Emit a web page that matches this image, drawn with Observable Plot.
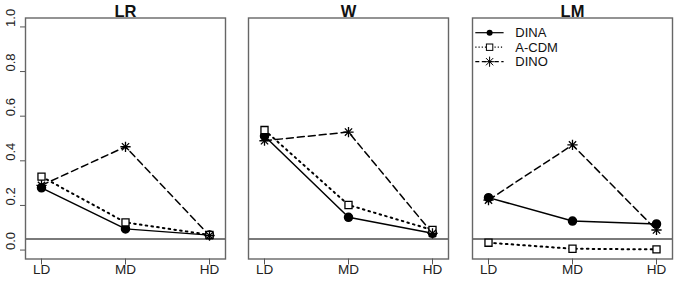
<!DOCTYPE html>
<html>
<head>
<meta charset="utf-8">
<script src="https://cdn.jsdelivr.net/npm/d3@7"></script>
<script src="https://cdn.jsdelivr.net/npm/@observablehq/plot@0.6"></script>
<style>
  html, body { margin: 0; padding: 0; background: white; }
  #chart { position: relative; width: 676px; height: 281px; overflow: hidden; background: white; font-family: "Liberation Sans", Arial, sans-serif; }
  #chart svg { position: absolute; top: 0; background: transparent !important; overflow: visible; }
</style>
</head>
<body>
<div id="chart"></div>
<script>
const categories = ["LD", "MD", "HD"];
const panels = ["LR", "W", "LM"];
const series = ["DINA", "A-CDM", "DINO"];
const yTicks = [0, 0.2, 0.4, 0.6, 0.8, 1.0];
const cutoff = 0.05;

const LR_DINA = [0.279, 0.095, 0.067];
const LR_ACDM = [0.329, 0.124, 0.068];
const LR_DINO = [0.290, 0.463, 0.065];
const W_DINA  = [0.511, 0.147, 0.075];
const W_ACDM  = [0.538, 0.202, 0.090];
const W_DINO  = [0.490, 0.529, 0.075];
const LM_DINA = [0.235, 0.130, 0.117];
const LM_ACDM = [0.033, 0.006, 0.003];
const LM_DINO = [0.224, 0.471, 0.090];

const values = {
  LR: [LR_DINA, LR_ACDM, LR_DINO],
  W:  [W_DINA, W_ACDM, W_DINO],
  LM: [LM_DINA, LM_ACDM, LM_DINO]
};

const styles = {
  "DINA":  {dash: null, width: 1.5},
  "A-CDM": {dash: "1.6,4.2", width: 2},
  "DINO":  {dash: "7,4", width: 1.5}
};

const font = "Liberation Sans, Arial, sans-serif";
const lefts = [0, 223.3, 446.7];
const chart = document.getElementById("chart");
const fmt = d3.format(".1f");

panels.forEach((p, pi) => {
  const rows = [];
  series.forEach((s, si) => {
    categories.forEach((c, ci) => rows.push({panel: p, series: s, cat: c, value: values[p][si][ci]}));
  });
  const of = s => rows.filter(d => d.series === s);

  const marks = [
    Plot.ruleY([cutoff], {stroke: "#7a7a7a", strokeWidth: 2}),
    ...series.map(s => Plot.line(of(s), {x: "cat", y: "value", stroke: "black", strokeWidth: styles[s].width, strokeDasharray: styles[s].dash})),
    Plot.dot(of("DINA"), {x: "cat", y: "value", r: 4, fill: "black", stroke: "black", symbol: "circle"}),
    Plot.dot(of("A-CDM"), {x: "cat", y: "value", r: 4, fill: "white", stroke: "black", strokeWidth: 1.3, symbol: "square"}),
    Plot.dot(of("DINO"), {x: "cat", y: "value", r: 3.4, stroke: "black", strokeWidth: 1.3, symbol: "plus"}),
    Plot.dot(of("DINO"), {x: "cat", y: "value", r: 3.4, stroke: "black", strokeWidth: 1.3, symbol: "times"}),
    Plot.frame({stroke: "#666", strokeWidth: 1.4}),
    Plot.axisX(categories, {anchor: "bottom", tickSize: 6, text: null, stroke: "#555", label: null}),
    Plot.text(categories, {x: d => d, frameAnchor: "bottom", dy: 15, fontSize: 13.5, fill: "#222"}),
    Plot.text([p], {frameAnchor: "top", dy: -1.5, lineAnchor: "bottom", fontWeight: "bold", fontSize: 16.5, fill: "#111"})
  ];
  if (pi === 0) {
    marks.push(Plot.axisY(yTicks, {anchor: "left", tickSize: 5, text: null, stroke: "#555", label: null}));
    marks.push(Plot.text(yTicks, {y: d => d, text: d => fmt(d), frameAnchor: "left", dx: -15, rotate: -90, fontSize: 13, fill: "#222"}));
  }

  const svg = Plot.plot({
    width: 226,
    height: 281,
    marginLeft: 25,
    marginRight: 1,
    marginTop: 17.5,
    marginBottom: 22.5,
    style: {fontFamily: font, background: "transparent", overflow: "visible"},
    x: {type: "point", domain: categories, padding: 0.186, axis: null},
    y: {domain: [-0.04, 1.04], axis: null},
    marks
  });
  svg.style.left = lefts[pi] + "px";
  chart.appendChild(svg);

  if (p === "LM") {
    const g = d3.select(svg).append("g").attr("font-family", font).attr("text-anchor", "start");
    series.forEach((s, si) => {
      const yy = 32.7 + si * 14.5;
      const x0 = 475 - lefts[pi], x1 = 503.3 - lefts[pi], xm = 489.3 - lefts[pi];
      g.append("line").attr("x1", x0).attr("x2", x1).attr("y1", yy).attr("y2", yy)
        .attr("stroke", "black").attr("stroke-width", s === "A-CDM" ? 1.3 : 1.2)
        .attr("stroke-dasharray", s === "DINA" ? null : (s === "A-CDM" ? "1.2,2" : "4,2.5"));
      if (s === "DINA") {
        g.append("circle").attr("cx", xm).attr("cy", yy).attr("r", 3).attr("fill", "black");
      } else if (s === "A-CDM") {
        g.append("rect").attr("x", xm - 3.2).attr("y", yy - 3.2).attr("width", 6.4).attr("height", 6.4).attr("fill", "white").attr("stroke", "black").attr("stroke-width", 1);
      } else {
        g.append("path").attr("d", d3.symbol(d3.symbolPlus, 36)()).attr("transform", `translate(${xm},${yy})`).attr("fill", "none").attr("stroke", "black").attr("stroke-width", 1);
        g.append("path").attr("d", d3.symbol(d3.symbolTimes, 36)()).attr("transform", `translate(${xm},${yy})`).attr("fill", "none").attr("stroke", "black").attr("stroke-width", 1);
      }
      g.append("text").attr("x", 515 - lefts[pi]).attr("y", yy).attr("dy", "0.35em").attr("font-size", 13).attr("fill", "#111").text(s);
    });
  }
});
</script>
</body>
</html>
